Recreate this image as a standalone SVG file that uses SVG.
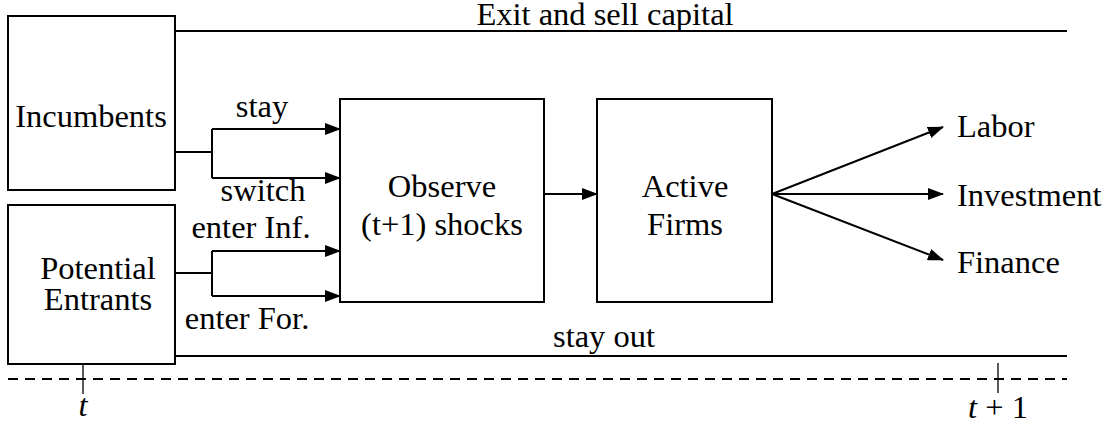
<svg xmlns="http://www.w3.org/2000/svg" width="1113" height="425" viewBox="0 0 1113 425">
<defs>
<style>
.box{fill:#fff;stroke:#000;stroke-width:2}
.ln{fill:none;stroke:#000;stroke-width:2}
.thin{fill:none;stroke:#000;stroke-width:1.3}
.c{text-anchor:middle}
.it{font-style:italic}
</style>
<marker id="ah" markerWidth="16" markerHeight="12" refX="15" refY="6" orient="auto" markerUnits="userSpaceOnUse">
<path d="M0,0 L16,6 L0,12 Z" fill="#000"/>
</marker>
</defs>
<rect width="1113" height="425" fill="#fff"/>
<g font-family="'Liberation Serif', 'DejaVu Serif', serif" font-size="32.5" fill="#000">
<g id="connectors">
<path class="ln" d="M175,31 H1067"/>
<path class="ln" d="M175,356 H1067"/>
<path class="ln" d="M175,152 H212 M212,129 V178"/>
<path class="ln" d="M212,129 H340" marker-end="url(#ah)"/>
<path class="ln" d="M212,178 H340" marker-end="url(#ah)"/>
<path class="ln" d="M175,273 H212 M212,251 V296"/>
<path class="ln" d="M212,251 H340" marker-end="url(#ah)"/>
<path class="ln" d="M212,296 H340" marker-end="url(#ah)"/>
<path class="ln" d="M544,194 H597" marker-end="url(#ah)"/>
<path class="ln" d="M772,194 L943,127" marker-end="url(#ah)"/>
<path class="ln" d="M772,194 H943" marker-end="url(#ah)"/>
<path class="ln" d="M772,194 L943,260" marker-end="url(#ah)"/>
<path class="ln" d="M8,379 H1067" stroke-dasharray="10,7"/>
<path class="thin" d="M83,364 V394"/>
<path class="thin" d="M998,363 V393"/>
<text class="c" x="605" y="25">Exit and sell capital</text>
<text class="c" x="604" y="347">stay out</text>
<text class="c" x="262" y="117">stay</text>
<text class="c" x="263" y="201">switch</text>
<text class="c" x="251" y="238">enter Inf.</text>
<text class="c" x="247" y="329">enter For.</text>
</g>
<g id="incumbents">
<rect class="box" x="8" y="16" width="167" height="174"/>
<text class="c" x="91" y="127">Incumbents</text>
</g>
<g id="potential-entrants">
<rect class="box" x="8" y="205" width="167" height="159"/>
<text class="c" x="98" y="279">Potential</text>
<text class="c" x="98" y="310">Entrants</text>
</g>
<g id="observe">
<rect class="box" x="340" y="99" width="204" height="203"/>
<text class="c" x="442" y="197">Observe</text>
<text class="c" x="442" y="235">(t+1) shocks</text>
</g>
<g id="active-firms">
<rect class="box" x="597" y="99" width="175" height="203"/>
<text class="c" x="685" y="197">Active</text>
<text class="c" x="685" y="235">Firms</text>
</g>
<g id="labor"><text x="957" y="137">Labor</text></g>
<g id="investment"><text x="957" y="206">Investment</text></g>
<g id="finance"><text x="957" y="273">Finance</text></g>
<g id="time-t"><text class="c it" x="83" y="416">t</text></g>
<g id="time-t1"><text class="c" x="998" y="418"><tspan class="it">t</tspan> + 1</text></g>
</g>
</svg>
